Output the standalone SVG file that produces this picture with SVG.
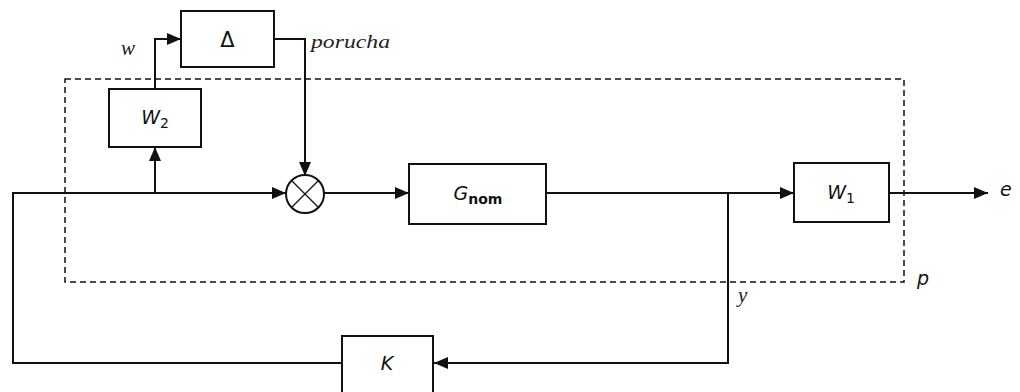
<svg xmlns="http://www.w3.org/2000/svg" width="1020" height="392" viewBox="0 0 1020 392">
<style>
.box{fill:#fff;stroke:#111;stroke-width:2}
.ln{fill:none;stroke:#111;stroke-width:2}
.dash{fill:none;stroke:#111;stroke-width:1.5;stroke-dasharray:6 4}
.lbl{font-family:"DejaVu Sans",Verdana,sans-serif;font-style:italic;font-size:19px;fill:#111}
.sub{font-family:"DejaVu Sans",Verdana,sans-serif;font-style:normal;font-size:14px;fill:#111}
.ser{font-family:"Liberation Serif","Times New Roman",serif;font-style:italic;fill:#222}
</style>
<defs>
<marker id="ah" viewBox="0 0 14 12" refX="14" refY="6" markerWidth="14" markerHeight="12" markerUnits="userSpaceOnUse" orient="auto">
<path d="M0,0 L14,6 L0,12 Z" fill="#111"/>
</marker>
</defs>
<rect id="P" class="dash" x="65" y="79" width="839" height="203"/>
<g id="connectors">
<path class="ln" d="M155,89 V39 H181" marker-end="url(#ah)"/>
<path class="ln" d="M274,39 H305 V176" marker-end="url(#ah)"/>
<path class="ln" d="M155,193 V147" marker-end="url(#ah)"/>
<path class="ln" d="M342,363 H13 V193 H286" marker-end="url(#ah)"/>
<path class="ln" d="M324,193 H409" marker-end="url(#ah)"/>
<path class="ln" d="M546,193 H794" marker-end="url(#ah)"/>
<path class="ln" d="M728,193 V363 H434" marker-end="url(#ah)"/>
<path class="ln" d="M889,193 H988" marker-end="url(#ah)"/>
</g>
<g id="delta"><rect class="box" x="181" y="11" width="93" height="56"/><text x="227.5" y="47" text-anchor="middle" style="font-family:'DejaVu Sans',sans-serif;font-size:21px;fill:#111">Δ</text></g>
<g id="W2"><rect class="box" x="109" y="89" width="92" height="58"/><text class="lbl" x="155" y="124" text-anchor="middle">W<tspan class="sub" dy="4">2</tspan></text></g>
<g id="sum"><circle cx="305" cy="194" r="19" fill="#fff" stroke="#111" stroke-width="2"/><path d="M292,181 L318,207 M318,181 L292,207" stroke="#111" stroke-width="1.3"/></g>
<g id="Gnom"><rect class="box" x="409" y="164" width="137" height="60"/><text class="lbl" x="478" y="200" text-anchor="middle">G<tspan class="sub" dy="4" style="font-weight:bold">nom</tspan></text></g>
<g id="W1"><rect class="box" x="794" y="163" width="95" height="59"/><text class="lbl" x="841" y="199" text-anchor="middle">W<tspan class="sub" dy="4">1</tspan></text></g>
<g id="K"><rect class="box" x="342" y="336" width="91" height="60"/><text class="lbl" x="387" y="370" text-anchor="middle">K</text></g>
<text class="ser" x="121" y="55" font-size="21">w</text>
<text class="ser" x="311" y="48" font-size="18" textLength="79" lengthAdjust="spacingAndGlyphs">porucha</text>
<text class="ser" x="738" y="302" font-size="21">y</text>
<text class="lbl" x="1000" y="196">e</text>
<text class="lbl" x="917" y="285">p</text>
</svg>
